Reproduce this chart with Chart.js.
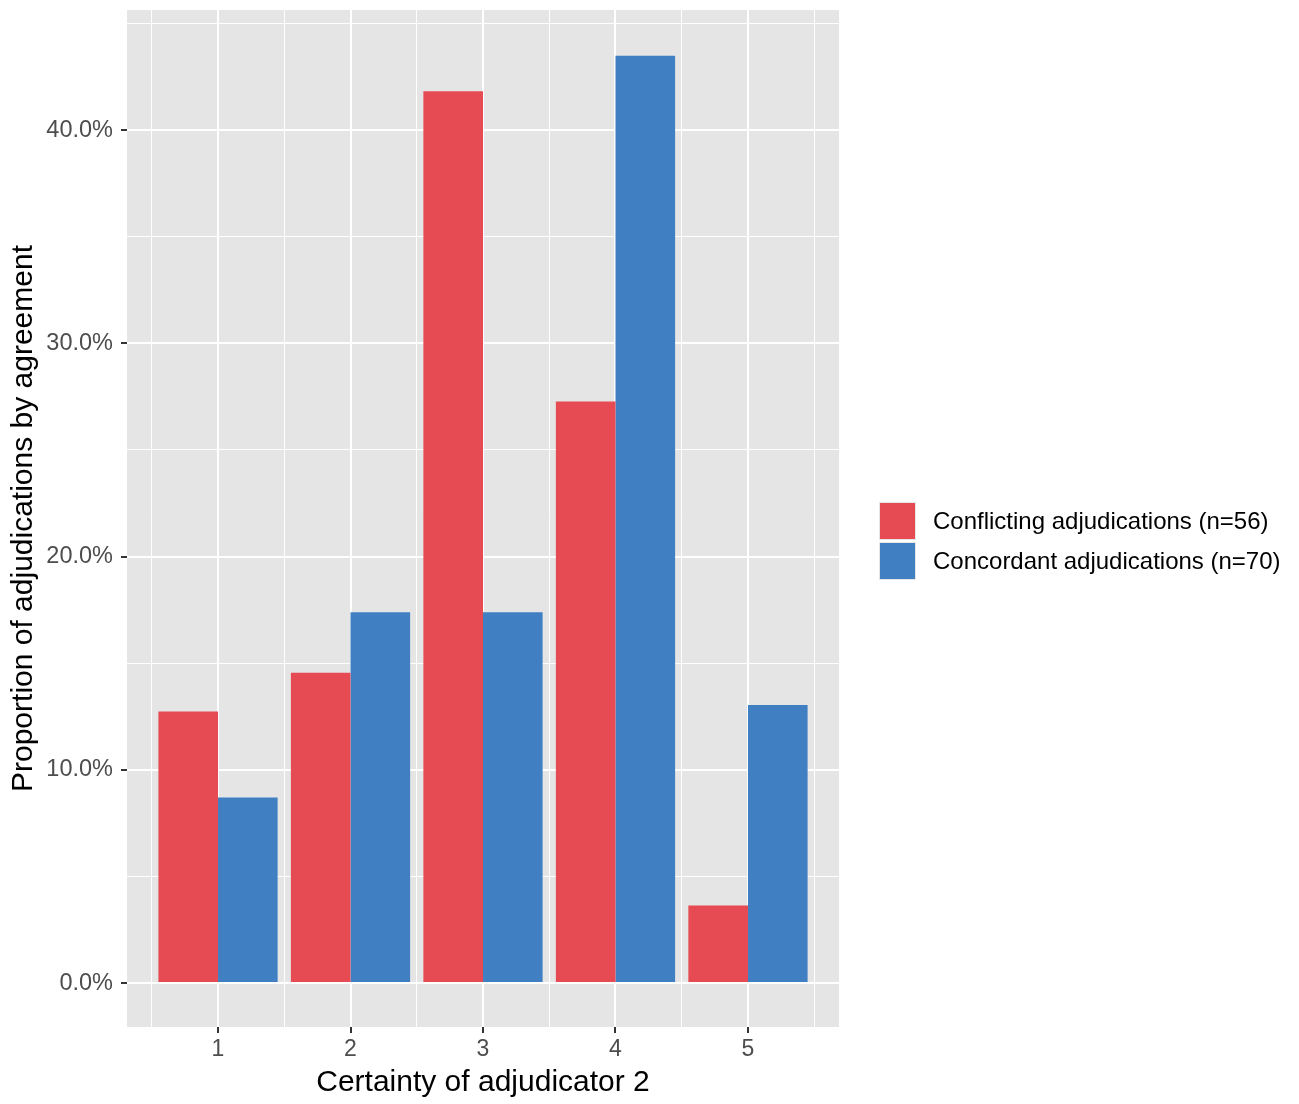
<!DOCTYPE html>
<html>
<head>
<meta charset="utf-8">
<script src="https://cdn.jsdelivr.net/npm/chart.js@4"></script>
<style>
html,body{margin:0;padding:0;background:#fff;}
#wrap{width:1299px;height:1104px;position:relative;}
</style>
</head>
<body>
<div id="wrap"><canvas id="c" width="1299" height="1104"></canvas></div>
<script>
const categories = [1, 2, 3, 4, 5];
const conflicting = [12.73, 14.55, 41.82, 27.27, 3.64];
const concordant = [8.70, 17.39, 17.39, 43.48, 13.04];
const seriesNames = ['Conflicting adjudications (n=56)', 'Concordant adjudications (n=70)'];
const seriesColors = ['#E64A53', '#4080C2'];
const xTitle = 'Certainty of adjudicator 2';
const yTitle = 'Proportion of adjudications by agreement';

const FONT = "'Liberation Sans', Arial, Helvetica, sans-serif";
const isInt = v => Math.abs(v - Math.round(v)) < 1e-6;
const isTen = v => Math.abs(v / 10 - Math.round(v / 10)) < 1e-6;

const panelBg = {
  id: 'panelBg',
  beforeDraw(chart) {
    const {ctx, chartArea: a} = chart;
    ctx.save();
    ctx.fillStyle = '#E5E5E5';
    ctx.fillRect(a.left, a.top, a.right - a.left, a.bottom - a.top);
    ctx.restore();
  }
};

const legendPlugin = {
  id: 'customLegend',
  afterDraw(chart) {
    const ctx = chart.ctx;
    ctx.save();
    const x0 = 879, y0 = 502, kw = 37, kh = 38;
    seriesNames.forEach((name, i) => {
      const y = y0 + i * (kh + 2);
      ctx.fillStyle = seriesColors[i];
      ctx.fillRect(x0, y, kw, kh);
      ctx.strokeStyle = '#E5E5E5';
      ctx.lineWidth = 1;
      ctx.strokeRect(x0 + 0.5, y + 0.5, kw - 1, kh - 1);
      ctx.fillStyle = '#000';
      ctx.font = '24px ' + FONT;
      ctx.textBaseline = 'middle';
      ctx.textAlign = 'left';
      ctx.fillText(name, 933, y + kh / 2 + 1);
    });
    ctx.restore();
  }
};

new Chart(document.getElementById('c'), {
  type: 'bar',
  data: {
    datasets: [
      {label: seriesNames[0], data: categories.map((c, i) => ({x: c, y: conflicting[i]})), backgroundColor: seriesColors[0], borderWidth: 0},
      {label: seriesNames[1], data: categories.map((c, i) => ({x: c, y: concordant[i]})), backgroundColor: seriesColors[1], borderWidth: 0}
    ]
  },
  options: {
    responsive: false,
    animation: false,
    devicePixelRatio: 1,
    layout: {padding: {left: 0, right: 460, top: 10, bottom: 0}},
    datasets: {bar: {categoryPercentage: 1.8, barPercentage: 1.0}},
    plugins: {legend: {display: false}, tooltip: {enabled: false}},
    scales: {
      x: {
        type: 'linear',
        offset: false,
        min: 0.313,
        max: 5.687,
        border: {display: false},
        grid: {
          offset: false,
          color: '#FFFFFF',
          lineWidth: c => (c.tick && isInt(c.tick.value)) ? 2 : 1,
          drawTicks: true,
          tickLength: 6,
          tickWidth: 2,
          tickColor: c => (c.tick && isInt(c.tick.value)) ? '#333333' : 'rgba(0,0,0,0)'
        },
        ticks: {
          stepSize: 0.5,
          includeBounds: false,
          autoSkip: false,
          maxRotation: 0,
          padding: 3,
          color: '#4D4D4D',
          font: {family: FONT, size: 23},
          callback: v => isInt(v) ? String(Math.round(v)) : ''
        },
        title: {display: true, text: xTitle, color: '#000', font: {family: FONT, size: 30}, padding: {top: 0, bottom: 3}},
        afterFit: s => { s.height = 77; s.paddingLeft = 0; s.paddingRight = 0; }
      },
      y: {
        type: 'linear',
        min: -2.06,
        max: 45.63,
        border: {display: false},
        grid: {
          color: '#FFFFFF',
          lineWidth: c => (c.tick && isTen(c.tick.value)) ? 2 : 1,
          drawTicks: true,
          tickLength: 6,
          tickWidth: 2,
          tickColor: c => (c.tick && isTen(c.tick.value)) ? '#333333' : 'rgba(0,0,0,0)'
        },
        ticks: {
          stepSize: 5,
          includeBounds: false,
          autoSkip: false,
          padding: 8,
          color: '#4D4D4D',
          font: {family: FONT, size: 23.5},
          callback: v => isTen(v) ? v.toFixed(1) + '%' : ''
        },
        title: {display: true, text: yTitle, color: '#000', font: {family: FONT, size: 30}, padding: {top: 6, bottom: 0}},
        afterFit: s => { s.width = 127; s.paddingTop = 0; s.paddingBottom = 0; }
      }
    }
  },
  plugins: [panelBg, legendPlugin]
});
</script>
</body>
</html>
